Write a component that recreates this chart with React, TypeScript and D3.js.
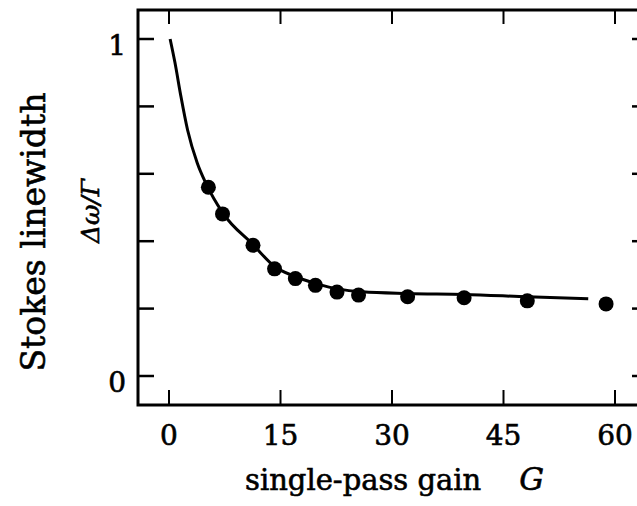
import React from "react";
import * as d3 from "d3";

const xTicks = [0, 15, 30, 45, 60];
const yTicks = [0, 0.2, 0.4, 0.6, 0.8, 1];
const yTickLabels = ["0", "", "", "", "", "1"];

const pointG = [5.3, 7.2, 11.3, 14.2, 17.0, 19.7, 22.6, 25.5, 32.1, 39.7, 48.2, 58.8];
const pointW = [0.56, 0.481, 0.388, 0.318, 0.289, 0.269, 0.249, 0.24, 0.235, 0.232, 0.223, 0.214];

const curveG = [0.15, 0.8, 1.6, 2.5, 3.8, 5.0, 7.2, 11.3, 14.2, 17.0, 19.7, 23.0, 26.0, 32.1, 39.7, 48.2, 56.4];
const curveW = [1.0, 0.93, 0.83, 0.73, 0.632, 0.57, 0.485, 0.39, 0.325, 0.295, 0.275, 0.257, 0.25, 0.245, 0.242, 0.235, 0.229];

const W = 637;
const H = 506;
const FONT = "'DejaVu Serif', 'Liberation Serif', serif";

export default function App() {
  const x = d3.scaleLinear().domain([0, 60]).range([169, 615]);
  const y = d3.scaleLinear().domain([0, 1]).range([376, 39]);
  const frame = { left: 138, right: 647, top: 10, bottom: 405 };

  const line = d3
    .line<number>()
    .x((_, i) => x(curveG[i]))
    .y((_, i) => y(curveW[i]))
    .curve(d3.curveMonotoneX);

  const pathD = line(curveG) || "";
  const textProps = { fontFamily: FONT, fill: "#000", stroke: "#000", strokeWidth: 0.6 };

  return (
    <svg
      width={W}
      height={H}
      style={{ position: "absolute", left: 0, top: 0, background: "#fff", display: "block" }}
    >
      <rect x={0} y={0} width={W} height={H} fill="#fff" />
      <rect
        x={frame.left}
        y={frame.top}
        width={frame.right - frame.left}
        height={frame.bottom - frame.top}
        fill="none"
        stroke="#000"
        strokeWidth={3}
      />
      {xTicks.map((t) => (
        <g key={"xt" + t}>
          <line x1={x(t)} x2={x(t)} y1={frame.top} y2={frame.top + 14} stroke="#000" strokeWidth={2} />
          <line x1={x(t)} x2={x(t)} y1={frame.bottom} y2={frame.bottom - 15} stroke="#000" strokeWidth={2} />
          <text x={x(t)} y={445} textAnchor="middle" fontSize={28} {...textProps}>
            {t}
          </text>
        </g>
      ))}
      {yTicks.map((t, i) => (
        <g key={"yt" + t}>
          <line x1={frame.left} x2={frame.left + 16} y1={y(t)} y2={y(t)} stroke="#000" strokeWidth={2.5} />
          <line x1={frame.right} x2={frame.right - 15} y1={y(t)} y2={y(t)} stroke="#000" strokeWidth={2.5} />
          {yTickLabels[i] && (
            <text x={126} y={y(t) + 16} textAnchor="end" fontSize={28} {...textProps}>
              {yTickLabels[i]}
            </text>
          )}
        </g>
      ))}
      <path d={pathD} fill="none" stroke="#000" strokeWidth={3} />
      {pointG.map((g, i) => (
        <circle key={"p" + i} cx={x(g)} cy={y(pointW[i])} r={7.5} fill="#000" />
      ))}
      <text x={245} y={490} fontSize={29} {...textProps}>
        single-pass gain
        <tspan dx={38} fontStyle="italic" fontSize={31}>G</tspan>
      </text>
      <text
        transform={`translate(45,232) rotate(-90)`}
        textAnchor="middle"
        fontSize={33}
        {...textProps}
      >
        Stokes linewidth
      </text>
      <text
        transform={`translate(99,211) rotate(-90)`}
        textAnchor="middle"
        fontStyle="italic"
        fontSize={25}
        {...textProps}
      >
        Δω/Γ
      </text>
    </svg>
  );
}
